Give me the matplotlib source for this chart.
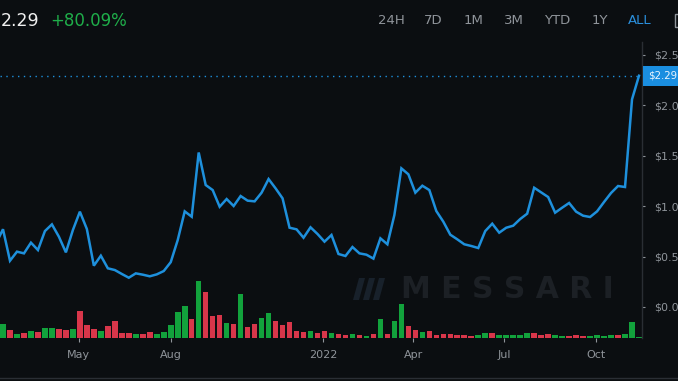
import numpy as np
import pandas as pd
import matplotlib
matplotlib.use("Agg")
import matplotlib.pyplot as plt
import matplotlib.transforms as mtransforms
from matplotlib.patches import Rectangle, Polygon
from matplotlib.lines import Line2D

# ---------------- data (weekly) ----------------
start_date = "2021-02-07"
price_usd = [
    0.63,
    0.770, 0.458, 0.548, 0.531, 0.637, 0.564, 0.752, 0.818, 0.696, 0.541,
    0.762, 0.944, 0.772, 0.409, 0.508, 0.383, 0.366, 0.327, 0.290, 0.333,
    0.320, 0.304, 0.323, 0.356, 0.444, 0.663, 0.947, 0.894, 1.530, 1.208,
    1.158, 0.993, 1.069, 1.000, 1.099, 1.053, 1.046, 1.132, 1.267, 1.175,
    1.076, 0.785, 0.769, 0.686, 0.789, 0.723, 0.647, 0.713, 0.525, 0.505,
    0.594, 0.531, 0.518, 0.479, 0.680, 0.621, 0.911, 1.373, 1.314, 1.132,
    1.201, 1.158, 0.950, 0.845, 0.716, 0.670, 0.621, 0.604, 0.584, 0.752,
    0.825, 0.736, 0.785, 0.805, 0.871, 0.924, 1.181, 1.135, 1.089, 0.934,
    0.983, 1.030, 0.944, 0.904, 0.891, 0.947, 1.040, 1.129, 1.198, 1.188,
    2.056, 2.290,
]
volume_musd = [
    9.0,
    14.0, 7.7, 4.3, 5.0, 6.7, 5.7, 10.0, 10.0, 9.3, 8.0,
    9.3, 27.0, 13.3, 9.0, 6.7, 12.3, 17.0, 4.7, 5.0, 4.3,
    4.0, 5.7, 4.0, 5.7, 12.7, 25.7, 32.3, 19.3, 57.0, 45.7,
    22.3, 23.0, 15.0, 14.3, 44.3, 11.3, 13.7, 20.0, 24.7, 16.7,
    13.3, 16.0, 7.3, 5.7, 7.3, 5.0, 7.3, 4.7, 3.7, 3.0,
    4.0, 3.0, 2.3, 4.0, 19.3, 4.3, 16.7, 34.3, 12.3, 8.3,
    6.3, 7.3, 3.3, 4.0, 4.3, 2.7, 2.7, 2.3, 3.0, 4.7,
    5.0, 3.3, 2.7, 3.3, 3.0, 4.7, 5.0, 3.0, 4.3, 3.3,
    2.0, 2.0, 3.3, 2.3, 2.3, 3.3, 2.3, 2.7, 2.7, 4.0,
    15.7, 1.3,
]
volume_dir = list(
    "g"
    "grgrgrggrr"
    "grrrgrrrrg"
    "rrgggggrgr"
    "rrgrgrrggr"
    "rrrrgrrgrr"
    "grgrgrggrr"
    "grrrrrrrgg"
    "rgggggrrrg"
    "grrrgggg"
    "rgg"
)
current_price_label = "$2.29"
header_price = "2.29"
header_change = "+80.09%"
range_buttons = ["24H", "7D", "1M", "3M", "YTD", "1Y", "ALL"]
x_tick_dates = ["2021-05-01", "2021-08-01", "2022-01-01", "2022-04-01", "2022-07-01", "2022-10-01"]
x_tick_labels = ["May", "Aug", "2022", "Apr", "Jul", "Oct"]
y_ticks = [0.0, 0.5, 1.0, 1.5, 2.0, 2.5]
y_tick_labels = ["$0.0", "$0.5", "$1.0", "$1.5", "$2.0", "$2.5"]

dates = pd.date_range(start_date, periods=len(price_usd), freq="7D")

# ---------------- style ----------------
BG = "#0b0e11"
BLUE = "#1e90dc"
GREEN = "#12a23c"
RED = "#d8364a"
GREY = "#8f949a"
SPINE = "#2a2e34"
plt.rcParams["font.family"] = ["DejaVu Sans"]

W, H = 678, 381
fig = plt.figure(figsize=(W / 100, H / 100), dpi=100, facecolor=BG)

ax_left, ax_right, ax_top, ax_bot = 0, 642, 42, 338
rect = [ax_left / W, 1 - ax_bot / H, (ax_right - ax_left) / W, (ax_bot - ax_top) / H]

# volume axis (underneath)
axv = fig.add_axes(rect, facecolor=BG)
bar_colors = [GREEN if c == "g" else RED for c in volume_dir]
axv.bar(dates, volume_musd, width=5.6, color=bar_colors, align="center", linewidth=0)
axv.set_ylim(0, ax_bot - ax_top)
axv.axis("off")

# price axis
ax = fig.add_axes(rect, facecolor="none", sharex=axv)
ax.plot(dates, price_usd, color=BLUE, lw=1.8, solid_joinstyle="miter", zorder=3)
ax.axhline(price_usd[-1], color=BLUE, lw=1.0, ls=(0, (1, 3.2)))
ax.set_ylim(-0.307, 2.624)
ax.set_xlim(pd.Timestamp("2021-02-11"), pd.Timestamp("2022-11-16"))

for s in ["top", "left", "bottom"]:
    ax.spines[s].set_visible(False)
ax.spines["right"].set_color(SPINE)
ax.spines["right"].set_linewidth(1.0)
ax.yaxis.tick_right()
ax.set_yticks(y_ticks)
ax.set_yticklabels(y_tick_labels)
ax.tick_params(axis="y", direction="out", length=2.5, width=0.8, color=GREY,
               pad=6.5, labelsize=8, labelcolor=GREY)
ax.set_xticks([pd.Timestamp(d) for d in x_tick_dates])
ax.set_xticklabels(x_tick_labels)
ax.tick_params(axis="x", direction="out", length=3, width=0.8, color=GREY,
               pad=6, labelsize=8, labelcolor=GREY)

# current price tag
blend = mtransforms.blended_transform_factory(fig.transFigure, ax.transData)
tag_h = 20 / 101.0
fig.patches.append(Rectangle((643 / W, price_usd[-1] - tag_h / 2), (W - 643) / W, tag_h,
                             transform=blend, facecolor="#1a8ee0", edgecolor="none",
                             zorder=5, figure=fig))
fig.text(648 / W, price_usd[-1], current_price_label, transform=blend, color="#eaf5ff",
         fontsize=7.4, va="center", ha="left", zorder=6)

# header
fig.text(1 / W, 1 - 21 / H, header_price, color="#f0f0f0", fontsize=12.5, va="center", ha="left")
fig.text(50 / W, 1 - 21 / H, header_change, color="#1fae4a", fontsize=12, va="center", ha="left")
btn_centers = [391, 433.5, 473.5, 513.5, 557.5, 599.5, 640]
for lbl, cx in zip(range_buttons, btn_centers):
    fig.text(cx / W, 1 - 21 / H, lbl, color=("#2a8fdc" if lbl == "ALL" else GREY),
             fontsize=9.5, va="center", ha="center")
fig.patches.append(Rectangle((675 / W, 1 - 27 / H), 6 / W, 13 / H, transform=fig.transFigure,
                             facecolor="none", edgecolor=GREY, lw=1.0, figure=fig))

# watermark
fig.text(507 / W, 1 - 289 / H, "M E S S A R I", color="#1c2025", fontsize=21.5,
         fontweight="bold", va="center", ha="center", zorder=0.5)
for x0 in [353, 363, 373]:
    fig.patches.append(Polygon([(x0 / W, 1 - 300 / H), ((x0 + 6) / W, 1 - 300 / H),
                                ((x0 + 12) / W, 1 - 278 / H), ((x0 + 6) / W, 1 - 278 / H)],
                               closed=True, transform=fig.transFigure,
                               facecolor="#18212b", edgecolor="none", figure=fig, zorder=0.5))

# bottom separator
fig.lines.append(Line2D([0, 1], [1 - 378 / H, 1 - 378 / H], transform=fig.transFigure,
                        color=SPINE, lw=1.0, figure=fig))

fig.savefig("out.png", dpi=100, facecolor=BG)
